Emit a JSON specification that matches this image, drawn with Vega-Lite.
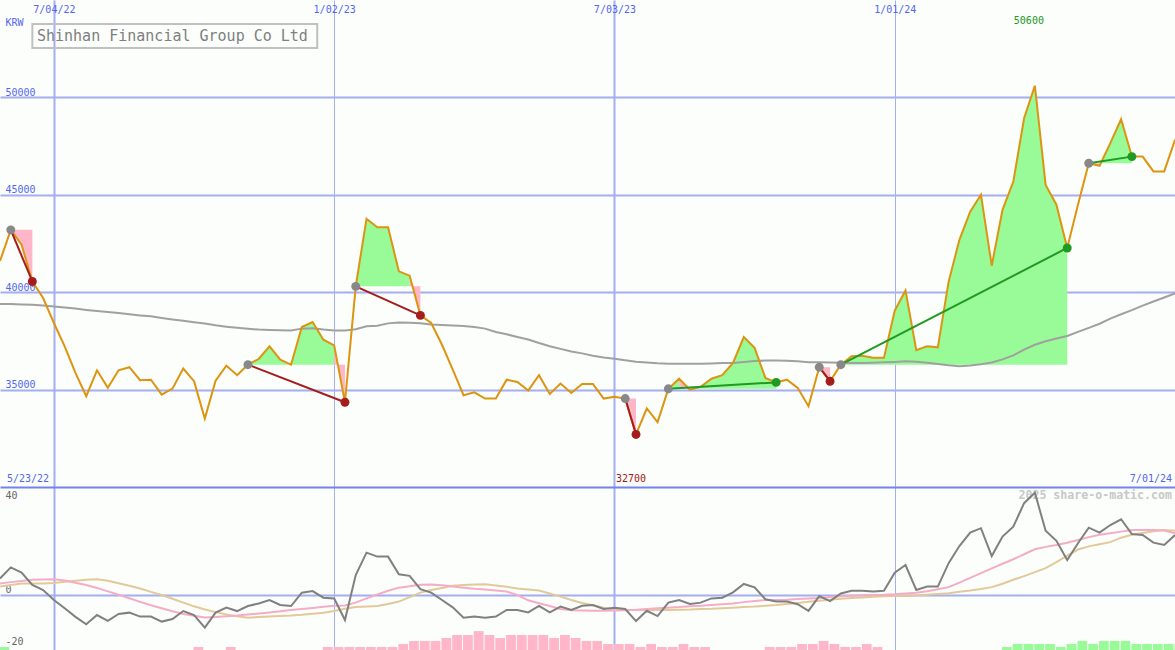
{
"$schema": "https://vega.github.io/schema/vega-lite/v6.json",
"background": "#fbfefb",
"padding": 0,
"spacing": 0,
"bounds": "flush",
"config": {"view": {"stroke": null, "fill": null}, "font": "DejaVu Sans Mono", "axis": {"labelFont": "DejaVu Sans Mono", "titleFont": "DejaVu Sans Mono"}},
"datasets": {
"w": [
{"d":"2022-05-30","c":41600,"m":39400,"g":6.3,"pk":4.4,"tn":3.2,"h":1,"bc":"g"},
{"d":"2022-06-06","c":43200,"m":39390,"g":10.5,"pk":4.9,"tn":3.8,"h":0,"bc":"p"},
{"d":"2022-06-13","c":42440,"m":39370,"g":8.5,"pk":5.3,"tn":4.4,"h":0,"bc":"p"},
{"d":"2022-06-20","c":40550,"m":39350,"g":3.8,"pk":5.8,"tn":4.4,"h":0,"bc":"p"},
{"d":"2022-06-27","c":39700,"m":39320,"g":1.9,"pk":5.9,"tn":4.4,"h":0,"bc":"p"},
{"d":"2022-07-04","c":38420,"m":39270,"g":-1.9,"pk":6.0,"tn":4.6,"h":0,"bc":"p"},
{"d":"2022-07-11","c":37220,"m":39220,"g":-5.0,"pk":5.5,"tn":5.0,"h":0,"bc":"p"},
{"d":"2022-07-18","c":35860,"m":39160,"g":-8.3,"pk":4.7,"tn":5.4,"h":0,"bc":"p"},
{"d":"2022-07-25","c":34660,"m":39090,"g":-11.1,"pk":3.8,"tn":5.8,"h":0,"bc":"p"},
{"d":"2022-08-01","c":35990,"m":39030,"g":-7.6,"pk":2.7,"tn":6.0,"h":0,"bc":"p"},
{"d":"2022-08-08","c":35090,"m":38980,"g":-9.8,"pk":1.4,"tn":5.4,"h":0,"bc":"p"},
{"d":"2022-08-15","c":35990,"m":38930,"g":-7.2,"pk":0.1,"tn":4.5,"h":0,"bc":"p"},
{"d":"2022-08-22","c":36150,"m":38870,"g":-6.7,"pk":-1.2,"tn":3.5,"h":0,"bc":"p"},
{"d":"2022-08-29","c":35480,"m":38810,"g":-8.2,"pk":-2.6,"tn":2.5,"h":0,"bc":"p"},
{"d":"2022-09-05","c":35510,"m":38760,"g":-8.2,"pk":-3.9,"tn":1.2,"h":0,"bc":"p"},
{"d":"2022-09-12","c":34740,"m":38680,"g":-10.1,"pk":-5.0,"tn":0.0,"h":0,"bc":"p"},
{"d":"2022-09-19","c":35050,"m":38600,"g":-9.1,"pk":-6.2,"tn":-1.4,"h":0,"bc":"p"},
{"d":"2022-09-26","c":36080,"m":38530,"g":-6.1,"pk":-7.2,"tn":-2.9,"h":0,"bc":"p"},
{"d":"2022-10-03","c":35430,"m":38460,"g":-7.6,"pk":-7.9,"tn":-4.3,"h":1,"bc":"p"},
{"d":"2022-10-10","c":33510,"m":38390,"g":-12.4,"pk":-8.5,"tn":-5.5,"h":0,"bc":"p"},
{"d":"2022-10-17","c":35460,"m":38300,"g":-6.7,"pk":-8.4,"tn":-6.5,"h":0,"bc":"p"},
{"d":"2022-10-24","c":36230,"m":38230,"g":-4.8,"pk":-8.1,"tn":-7.4,"h":1,"bc":"p"},
{"d":"2022-10-31","c":35740,"m":38170,"g":-6.1,"pk":-7.8,"tn":-8.1,"h":0,"bc":"p"},
{"d":"2022-11-07","c":36280,"m":38120,"g":-4.2,"pk":-7.4,"tn":-8.6,"h":0,"bc":"p"},
{"d":"2022-11-14","c":36570,"m":38080,"g":-3.2,"pk":-7.0,"tn":-8.4,"h":0,"bc":"p"},
{"d":"2022-11-21","c":37220,"m":38060,"g":-1.9,"pk":-6.6,"tn":-8.2,"h":0,"bc":"p"},
{"d":"2022-11-28","c":36540,"m":38050,"g":-3.8,"pk":-6.2,"tn":-8.0,"h":0,"bc":"p"},
{"d":"2022-12-05","c":36280,"m":38040,"g":-4.2,"pk":-5.7,"tn":-7.8,"h":0,"bc":"p"},
{"d":"2022-12-12","c":38210,"m":38130,"g":0.9,"pk":-5.3,"tn":-7.5,"h":0,"bc":"p"},
{"d":"2022-12-19","c":38470,"m":38150,"g":1.5,"pk":-4.9,"tn":-7.1,"h":0,"bc":"p"},
{"d":"2022-12-26","c":37560,"m":38080,"g":-1.0,"pk":-4.5,"tn":-6.7,"h":1,"bc":"p"},
{"d":"2023-01-02","c":37270,"m":38040,"g":-1.3,"pk":-4.1,"tn":-6.1,"h":1,"bc":"p"},
{"d":"2023-01-09","c":34350,"m":38040,"g":-9.5,"pk":-4.0,"tn":-5.2,"h":1,"bc":"p"},
{"d":"2023-01-16","c":40300,"m":38100,"g":7.6,"pk":-2.9,"tn":-4.6,"h":1,"bc":"p"},
{"d":"2023-01-23","c":43770,"m":38250,"g":16.1,"pk":-1.3,"tn":-4.4,"h":1,"bc":"p"},
{"d":"2023-01-30","c":43330,"m":38280,"g":14.6,"pk":0.2,"tn":-4.2,"h":1,"bc":"p"},
{"d":"2023-02-06","c":43330,"m":38400,"g":14.6,"pk":1.6,"tn":-3.4,"h":1,"bc":"p"},
{"d":"2023-02-13","c":41070,"m":38450,"g":7.9,"pk":2.8,"tn":-2.5,"h":2,"bc":"p"},
{"d":"2023-02-20","c":40850,"m":38430,"g":7.3,"pk":3.3,"tn":-0.8,"h":3,"bc":"p"},
{"d":"2023-02-27","c":38810,"m":38400,"g":2.2,"pk":3.9,"tn":0.9,"h":3,"bc":"p"},
{"d":"2023-03-06","c":38420,"m":38340,"g":0.9,"pk":4.0,"tn":1.9,"h":3,"bc":"p"},
{"d":"2023-03-13","c":37300,"m":38310,"g":-1.9,"pk":3.7,"tn":2.7,"h":4,"bc":"p"},
{"d":"2023-03-20","c":36030,"m":38290,"g":-4.7,"pk":3.2,"tn":3.5,"h":5,"bc":"p"},
{"d":"2023-03-27","c":34710,"m":38260,"g":-8.6,"pk":2.8,"tn":3.8,"h":5,"bc":"p"},
{"d":"2023-04-03","c":34860,"m":38210,"g":-8.2,"pk":2.4,"tn":4.0,"h":6.3,"bc":"p"},
{"d":"2023-04-10","c":34540,"m":38130,"g":-8.6,"pk":2.1,"tn":4.1,"h":5,"bc":"p"},
{"d":"2023-04-17","c":34540,"m":37960,"g":-8.2,"pk":1.7,"tn":3.6,"h":4,"bc":"p"},
{"d":"2023-04-24","c":35510,"m":37840,"g":-5.7,"pk":1.3,"tn":3.1,"h":5,"bc":"p"},
{"d":"2023-05-01","c":35390,"m":37700,"g":-5.7,"pk":0.0,"tn":2.5,"h":5,"bc":"p"},
{"d":"2023-05-08","c":34950,"m":37570,"g":-6.6,"pk":-2.0,"tn":2.1,"h":5,"bc":"p"},
{"d":"2023-05-15","c":35740,"m":37390,"g":-4.1,"pk":-3.1,"tn":1.7,"h":5,"bc":"p"},
{"d":"2023-05-22","c":34780,"m":37230,"g":-6.6,"pk":-4.2,"tn":0.6,"h":4,"bc":"p"},
{"d":"2023-05-29","c":35310,"m":37090,"g":-4.4,"pk":-5.3,"tn":-0.6,"h":5,"bc":"p"},
{"d":"2023-06-05","c":34830,"m":36960,"g":-5.7,"pk":-5.8,"tn":-1.9,"h":4,"bc":"p"},
{"d":"2023-06-12","c":35290,"m":36860,"g":-4.1,"pk":-5.9,"tn":-3.0,"h":3,"bc":"p"},
{"d":"2023-06-19","c":35290,"m":36740,"g":-3.8,"pk":-6.0,"tn":-3.9,"h":3,"bc":"p"},
{"d":"2023-06-26","c":34540,"m":36650,"g":-5.3,"pk":-6.0,"tn":-4.8,"h":2,"bc":"p"},
{"d":"2023-07-03","c":34630,"m":36580,"g":-4.8,"pk":-5.9,"tn":-5.6,"h":2,"bc":"p"},
{"d":"2023-07-10","c":34540,"m":36510,"g":-5.3,"pk":-5.8,"tn":-5.7,"h":2,"bc":"p"},
{"d":"2023-07-17","c":32700,"m":36430,"g":-9.9,"pk":-5.6,"tn":-5.7,"h":1,"bc":"p"},
{"d":"2023-07-24","c":34030,"m":36390,"g":-6.0,"pk":-5.3,"tn":-5.7,"h":2,"bc":"p"},
{"d":"2023-07-31","c":33330,"m":36350,"g":-8.0,"pk":-5.0,"tn":-5.7,"h":1,"bc":"p"},
{"d":"2023-08-07","c":35040,"m":36330,"g":-2.9,"pk":-4.8,"tn":-5.7,"h":1,"bc":"p"},
{"d":"2023-08-14","c":35560,"m":36330,"g":-1.9,"pk":-4.6,"tn":-5.6,"h":2,"bc":"p"},
{"d":"2023-08-21","c":35000,"m":36330,"g":-3.4,"pk":-4.3,"tn":-5.5,"h":1,"bc":"p"},
{"d":"2023-08-28","c":35140,"m":36330,"g":-2.9,"pk":-4.1,"tn":-5.3,"h":1,"bc":"p"},
{"d":"2023-09-04","c":35560,"m":36340,"g":-1.3,"pk":-3.8,"tn":-5.2,"h":0,"bc":"p"},
{"d":"2023-09-11","c":35740,"m":36360,"g":-1.0,"pk":-3.5,"tn":-5.0,"h":0,"bc":"p"},
{"d":"2023-09-18","c":36370,"m":36370,"g":1.0,"pk":-3.2,"tn":-4.8,"h":0,"bc":"p"},
{"d":"2023-09-25","c":37700,"m":36420,"g":4.2,"pk":-2.7,"tn":-4.6,"h":0,"bc":"p"},
{"d":"2023-10-02","c":37140,"m":36470,"g":2.9,"pk":-2.3,"tn":-4.4,"h":0,"bc":"p"},
{"d":"2023-10-09","c":35600,"m":36490,"g":-1.6,"pk":-1.9,"tn":-4.1,"h":1,"bc":"p"},
{"d":"2023-10-16","c":35370,"m":36490,"g":-2.5,"pk":-1.9,"tn":-3.8,"h":1,"bc":"p"},
{"d":"2023-10-23","c":35510,"m":36480,"g":-2.5,"pk":-1.8,"tn":-3.4,"h":1,"bc":"p"},
{"d":"2023-10-30","c":35090,"m":36450,"g":-3.5,"pk":-1.5,"tn":-3.0,"h":2,"bc":"p"},
{"d":"2023-11-06","c":34150,"m":36410,"g":-6.0,"pk":-1.3,"tn":-2.6,"h":2,"bc":"p"},
{"d":"2023-11-13","c":36150,"m":36400,"g":-0.4,"pk":-1.1,"tn":-2.2,"h":3,"bc":"p"},
{"d":"2023-11-20","c":35430,"m":36390,"g":-2.3,"pk":-0.8,"tn":-1.8,"h":2,"bc":"p"},
{"d":"2023-11-27","c":36280,"m":36380,"g":0.6,"pk":-0.5,"tn":-1.4,"h":1,"bc":"p"},
{"d":"2023-12-04","c":36710,"m":36370,"g":1.6,"pk":-0.3,"tn":-1.1,"h":1,"bc":"p"},
{"d":"2023-12-11","c":36740,"m":36370,"g":1.6,"pk":-0.1,"tn":-0.9,"h":2,"bc":"p"},
{"d":"2023-12-18","c":36630,"m":36380,"g":1.3,"pk":0.0,"tn":-0.7,"h":1,"bc":"p"},
{"d":"2023-12-25","c":36630,"m":36400,"g":1.6,"pk":0.1,"tn":-0.5,"h":0,"bc":"p"},
{"d":"2024-01-01","c":39050,"m":36420,"g":8.5,"pk":0.3,"tn":-0.4,"h":0,"bc":"p"},
{"d":"2024-01-08","c":40090,"m":36450,"g":11.4,"pk":0.6,"tn":-0.4,"h":0,"bc":"p"},
{"d":"2024-01-15","c":37020,"m":36430,"g":1.9,"pk":0.9,"tn":-0.2,"h":0,"bc":"p"},
{"d":"2024-01-22","c":37220,"m":36380,"g":3.2,"pk":1.4,"tn":0.1,"h":0,"bc":"p"},
{"d":"2024-01-29","c":37170,"m":36320,"g":3.2,"pk":2.2,"tn":0.4,"h":0,"bc":"p"},
{"d":"2024-02-05","c":40540,"m":36250,"g":12.1,"pk":3.0,"tn":0.7,"h":0,"bc":"p"},
{"d":"2024-02-12","c":42690,"m":36200,"g":18.6,"pk":4.7,"tn":1.2,"h":0,"bc":"p"},
{"d":"2024-02-19","c":44130,"m":36240,"g":23.7,"pk":6.5,"tn":1.7,"h":0,"bc":"p"},
{"d":"2024-02-26","c":45000,"m":36300,"g":25.4,"pk":8.3,"tn":2.3,"h":0,"bc":"p"},
{"d":"2024-03-04","c":41360,"m":36390,"g":14.8,"pk":10.1,"tn":3.0,"h":0,"bc":"p"},
{"d":"2024-03-11","c":44230,"m":36550,"g":22.2,"pk":11.9,"tn":4.3,"h":1,"bc":"g"},
{"d":"2024-03-18","c":45680,"m":36760,"g":26.0,"pk":13.6,"tn":5.8,"h":2,"bc":"g"},
{"d":"2024-03-25","c":48930,"m":37050,"g":34.9,"pk":15.5,"tn":7.2,"h":2,"bc":"g"},
{"d":"2024-04-01","c":50600,"m":37300,"g":38.9,"pk":17.4,"tn":8.7,"h":2,"bc":"g"},
{"d":"2024-04-08","c":45510,"m":37480,"g":24.4,"pk":18.3,"tn":10.2,"h":2,"bc":"g"},
{"d":"2024-04-15","c":44490,"m":37620,"g":20.6,"pk":19.0,"tn":12.5,"h":1,"bc":"g"},
{"d":"2024-04-22","c":42270,"m":37750,"g":13.3,"pk":19.9,"tn":15.0,"h":2,"bc":"g"},
{"d":"2024-04-29","c":44490,"m":37960,"g":19.7,"pk":20.9,"tn":17.3,"h":3,"bc":"g"},
{"d":"2024-05-06","c":46620,"m":38170,"g":25.6,"pk":22.0,"tn":18.5,"h":2,"bc":"g"},
{"d":"2024-05-13","c":46490,"m":38380,"g":23.7,"pk":22.9,"tn":19.3,"h":3,"bc":"g"},
{"d":"2024-05-20","c":47650,"m":38640,"g":26.6,"pk":23.5,"tn":20.1,"h":3,"bc":"g"},
{"d":"2024-05-27","c":48880,"m":38870,"g":28.8,"pk":24.1,"tn":21.8,"h":3,"bc":"g"},
{"d":"2024-06-03","c":46960,"m":39080,"g":23.2,"pk":24.7,"tn":22.9,"h":2,"bc":"g"},
{"d":"2024-06-10","c":46960,"m":39310,"g":22.8,"pk":24.7,"tn":23.6,"h":2,"bc":"g"},
{"d":"2024-06-17","c":46200,"m":39520,"g":19.9,"pk":24.7,"tn":24.2,"h":2,"bc":"g"},
{"d":"2024-06-24","c":46200,"m":39730,"g":19.0,"pk":24.5,"tn":24.7,"h":2,"bc":"g"},
{"d":"2024-07-01","c":47820,"m":39940,"g":22.8,"pk":23.5,"tn":24.4,"h":2,"bc":"g"}
],
"fills": [
{"d":"2022-06-06","c":43200,"e":43200,"r":"1p","k":"p"},
{"d":"2022-06-13","c":42440,"e":43200,"r":"1p","k":"p"},
{"d":"2022-06-20","c":40550,"e":43200,"r":"1p","k":"p"},
{"d":"2022-11-07","c":36280,"e":36280,"r":"2g","k":"g"},
{"d":"2022-11-14","c":36570,"e":36280,"r":"2g","k":"g"},
{"d":"2022-11-21","c":37220,"e":36280,"r":"2g","k":"g"},
{"d":"2022-11-28","c":36540,"e":36280,"r":"2g","k":"g"},
{"d":"2022-12-05","c":36280,"e":36280,"r":"2g","k":"g"},
{"d":"2022-12-12","c":38210,"e":36280,"r":"2g","k":"g"},
{"d":"2022-12-19","c":38470,"e":36280,"r":"2g","k":"g"},
{"d":"2022-12-26","c":37560,"e":36280,"r":"2g","k":"g"},
{"d":"2023-01-02","c":37270,"e":36280,"r":"2g","k":"g"},
{"d":"2023-01-02","c":37270,"e":36280,"r":"2p","k":"p"},
{"d":"2023-01-09","c":34350,"e":36280,"r":"2p","k":"p"},
{"d":"2023-01-16","c":40300,"e":40300,"r":"3g","k":"g"},
{"d":"2023-01-23","c":43770,"e":40300,"r":"3g","k":"g"},
{"d":"2023-01-30","c":43330,"e":40300,"r":"3g","k":"g"},
{"d":"2023-02-06","c":43330,"e":40300,"r":"3g","k":"g"},
{"d":"2023-02-13","c":41070,"e":40300,"r":"3g","k":"g"},
{"d":"2023-02-20","c":40850,"e":40300,"r":"3g","k":"g"},
{"d":"2023-02-20","c":40850,"e":40300,"r":"3p","k":"p"},
{"d":"2023-02-27","c":38810,"e":40300,"r":"3p","k":"p"},
{"d":"2023-07-10","c":34540,"e":34540,"r":"4p","k":"p"},
{"d":"2023-07-17","c":32700,"e":34540,"r":"4p","k":"p"},
{"d":"2023-08-07","c":35040,"e":35040,"r":"5g","k":"g"},
{"d":"2023-08-14","c":35560,"e":35040,"r":"5g","k":"g"},
{"d":"2023-08-14","c":35560,"e":35040,"r":"5p","k":"p"},
{"d":"2023-08-21","c":35000,"e":35040,"r":"5p","k":"p"},
{"d":"2023-08-21","c":35000,"e":35040,"r":"5h","k":"g"},
{"d":"2023-08-28","c":35140,"e":35040,"r":"5h","k":"g"},
{"d":"2023-09-04","c":35560,"e":35040,"r":"5h","k":"g"},
{"d":"2023-09-11","c":35740,"e":35040,"r":"5h","k":"g"},
{"d":"2023-09-18","c":36370,"e":35040,"r":"5h","k":"g"},
{"d":"2023-09-25","c":37700,"e":35040,"r":"5h","k":"g"},
{"d":"2023-10-02","c":37140,"e":35040,"r":"5h","k":"g"},
{"d":"2023-10-09","c":35600,"e":35040,"r":"5h","k":"g"},
{"d":"2023-10-16","c":35370,"e":35040,"r":"5h","k":"g"},
{"d":"2023-11-13","c":36150,"e":36150,"r":"6p","k":"p"},
{"d":"2023-11-20","c":35430,"e":36150,"r":"6p","k":"p"},
{"d":"2023-11-27","c":36280,"e":36280,"r":"7g","k":"g"},
{"d":"2023-12-04","c":36710,"e":36280,"r":"7g","k":"g"},
{"d":"2023-12-11","c":36740,"e":36280,"r":"7g","k":"g"},
{"d":"2023-12-18","c":36630,"e":36280,"r":"7g","k":"g"},
{"d":"2023-12-25","c":36630,"e":36280,"r":"7g","k":"g"},
{"d":"2024-01-01","c":39050,"e":36280,"r":"7g","k":"g"},
{"d":"2024-01-08","c":40090,"e":36280,"r":"7g","k":"g"},
{"d":"2024-01-15","c":37020,"e":36280,"r":"7g","k":"g"},
{"d":"2024-01-22","c":37220,"e":36280,"r":"7g","k":"g"},
{"d":"2024-01-29","c":37170,"e":36280,"r":"7g","k":"g"},
{"d":"2024-02-05","c":40540,"e":36280,"r":"7g","k":"g"},
{"d":"2024-02-12","c":42690,"e":36280,"r":"7g","k":"g"},
{"d":"2024-02-19","c":44130,"e":36280,"r":"7g","k":"g"},
{"d":"2024-02-26","c":45000,"e":36280,"r":"7g","k":"g"},
{"d":"2024-03-04","c":41360,"e":36280,"r":"7g","k":"g"},
{"d":"2024-03-11","c":44230,"e":36280,"r":"7g","k":"g"},
{"d":"2024-03-18","c":45680,"e":36280,"r":"7g","k":"g"},
{"d":"2024-03-25","c":48930,"e":36280,"r":"7g","k":"g"},
{"d":"2024-04-01","c":50600,"e":36280,"r":"7g","k":"g"},
{"d":"2024-04-08","c":45510,"e":36280,"r":"7g","k":"g"},
{"d":"2024-04-15","c":44490,"e":36280,"r":"7g","k":"g"},
{"d":"2024-04-22","c":42270,"e":36280,"r":"7g","k":"g"},
{"d":"2024-05-06","c":46620,"e":46620,"r":"8p","k":"p"},
{"d":"2024-05-13","c":46490,"e":46620,"r":"8p","k":"p"},
{"d":"2024-05-13","c":46490,"e":46620,"r":"8g","k":"g"},
{"d":"2024-05-20","c":47650,"e":46620,"r":"8g","k":"g"},
{"d":"2024-05-27","c":48880,"e":46620,"r":"8g","k":"g"},
{"d":"2024-06-03","c":46960,"e":46620,"r":"8g","k":"g"}
],
"trades": [
{"t":1,"d":"2022-06-06","v":43200,"w":"loss","k":"entry"},
{"t":1,"d":"2022-06-20","v":40550,"w":"loss","k":"loss"},
{"t":2,"d":"2022-11-07","v":36280,"w":"loss","k":"entry"},
{"t":2,"d":"2023-01-09","v":34350,"w":"loss","k":"loss"},
{"t":3,"d":"2023-01-16","v":40300,"w":"loss","k":"entry"},
{"t":3,"d":"2023-02-27","v":38810,"w":"loss","k":"loss"},
{"t":4,"d":"2023-07-10","v":34540,"w":"loss","k":"entry"},
{"t":4,"d":"2023-07-17","v":32700,"w":"loss","k":"loss"},
{"t":5,"d":"2023-08-07","v":35040,"w":"win","k":"entry"},
{"t":5,"d":"2023-10-16","v":35370,"w":"win","k":"win"},
{"t":6,"d":"2023-11-13","v":36150,"w":"loss","k":"entry"},
{"t":6,"d":"2023-11-20","v":35430,"w":"loss","k":"loss"},
{"t":7,"d":"2023-11-27","v":36280,"w":"win","k":"entry"},
{"t":7,"d":"2024-04-22","v":42270,"w":"win","k":"win"},
{"t":8,"d":"2024-05-06","v":46620,"w":"win","k":"entry"},
{"t":8,"d":"2024-06-03","v":46960,"w":"win","k":"win"}
]
},
"vconcat": [
{
"width": 1175, "height": 487,
"layer": [
{
"data": {"name": "fills"},
"mark": {"type": "area", "clip": true, "opacity": 1},
"encoding": {
"x": {"field": "d", "type": "temporal",
 "scale": {"type": "utc", "domain": [{"year": 2022, "month": 5, "date": 30, "utc": true}, {"year": 2024, "month": 7, "date": 1, "utc": true}]},
 "axis": {"orient": "top", "title": null,
  "values": [{"year": 2022, "month": 7, "date": 4, "utc": true}, {"year": 2023, "month": 1, "date": 2, "utc": true}, {"year": 2023, "month": 7, "date": 3, "utc": true}, {"year": 2024, "month": 1, "date": 1, "utc": true}],
  "labelExpr": "utcFormat(datum.value, '%-m/%d/%y')",
  "domain": false, "ticks": false, "tickSize": 0, "labelPadding": -4, "labelBaseline": "top", "labelAlign": "center", "labelDx": 3,
  "labelColor": "#5566ee", "labelFontSize": 10, "labelFlush": false, "labelOverlap": false,
  "grid": true, "gridColor": "#a4aef0", "gridOpacity": 1,
  "gridWidth": {"condition": {"test": "utcmonth(datum.value) == 6", "value": 2}, "value": 1},
  "minExtent": 0, "maxExtent": 0}},
"y": {"field": "c", "type": "quantitative",
 "scale": {"domain": [30000, 55000], "nice": false, "zero": false},
 "axis": {"orient": "left", "values": [35000, 40000, 45000, 50000], "labelExpr": "'' + datum.value",
  "domain": false, "ticks": false, "tickSize": 0, "labelPadding": -5, "labelAlign": "left", "labelBaseline": "alphabetic", "labelOffset": -2,
  "labelColor": "#5566ee", "labelFontSize": 10, "labelFlush": false, "labelOverlap": false,
  "grid": true, "gridColor": "#a4aef0", "gridWidth": 2, "gridOpacity": 1,
  "title": "KRW", "titleAngle": 0, "titleAlign": "left", "titleBaseline": "alphabetic", "titleX": 5, "titleY": 25,
  "titleColor": "#5566ee", "titleFontSize": 10, "titleFontWeight": "normal",
  "minExtent": 0, "maxExtent": 0}},
"y2": {"field": "e"},
"detail": {"field": "r"},
"color": {"field": "k", "type": "nominal", "scale": {"domain": ["g", "p", "win", "loss", "entry"], "range": ["#98fb98", "#ffb6c8", "#229922", "#a51c1c", "#888888"]}, "legend": null}
}
},
{
"data": {"name": "w"},
"mark": {"type": "line", "clip": true, "color": "#a0a0a0", "strokeWidth": 2},
"encoding": {
"x": {"field": "d", "type": "temporal"},
"y": {"field": "m", "type": "quantitative"}
}
},
{
"data": {"name": "w"},
"mark": {"type": "line", "clip": true, "color": "#dd9410", "strokeWidth": 2},
"encoding": {
"x": {"field": "d", "type": "temporal"},
"y": {"field": "c", "type": "quantitative"}
}
},
{
"data": {"name": "trades"},
"mark": {"type": "line", "clip": true, "strokeWidth": 2},
"encoding": {
"x": {"field": "d", "type": "temporal"},
"y": {"field": "v", "type": "quantitative"},
"detail": {"field": "t"},
"color": {"field": "w", "type": "nominal", "legend": null}
}
},
{
"data": {"name": "trades"},
"mark": {"type": "circle", "size": 80, "opacity": 1},
"encoding": {
"x": {"field": "d", "type": "temporal"},
"y": {"field": "v", "type": "quantitative"},
"color": {"field": "k", "type": "nominal", "legend": null}
}
},
{
"data": {"values": [{}]},
"mark": {"type": "rect", "filled": false, "stroke": "#c0c0c0", "strokeWidth": 2},
"encoding": {
"x": {"datum": {"year": 2022, "month": 6, "date": 20, "utc": true}, "type": "temporal"},
"x2": {"datum": {"year": 2022, "month": 12, "date": 22, "utc": true}},
"y": {"datum": 53770, "type": "quantitative"},
"y2": {"datum": 52540}
}
},
{
"data": {"values": [{}]},
"mark": {"type": "text", "align": "left", "baseline": "middle", "font": "DejaVu Sans Mono", "fontSize": 15, "color": "#808080"},
"encoding": {
"x": {"datum": {"year": 2022, "month": 6, "date": 23, "utc": true}, "type": "temporal"},
"y": {"datum": 53150, "type": "quantitative"},
"text": {"value": "Shinhan Financial Group Co Ltd"}
}
},
{
"data": {"values": [{}]},
"mark": {"type": "text", "align": "left", "baseline": "middle", "font": "DejaVu Sans Mono", "fontSize": 10, "color": "#5566ee", "dx": 7, "dy": -8},
"encoding": {
"x": {"datum": {"year": 2022, "month": 5, "date": 30, "utc": true}, "type": "temporal"},
"y": {"datum": 30000, "type": "quantitative"},
"text": {"value": "5/23/22"}
}
},
{
"data": {"values": [{}]},
"mark": {"type": "text", "align": "right", "baseline": "middle", "font": "DejaVu Sans Mono", "fontSize": 10, "color": "#5566ee", "dx": -3, "dy": -8},
"encoding": {
"x": {"datum": {"year": 2024, "month": 7, "date": 1, "utc": true}, "type": "temporal"},
"y": {"datum": 30000, "type": "quantitative"},
"text": {"value": "7/01/24"}
}
},
{
"data": {"values": [{}]},
"mark": {"type": "text", "align": "center", "baseline": "middle", "font": "DejaVu Sans Mono", "fontSize": 10, "color": "#a01818", "dx": -5, "dy": -8},
"encoding": {
"x": {"datum": {"year": 2023, "month": 7, "date": 17, "utc": true}, "type": "temporal"},
"y": {"datum": 30000, "type": "quantitative"},
"text": {"value": "32700"}
}
},
{
"data": {"values": [{}]},
"mark": {"type": "text", "align": "center", "baseline": "middle", "font": "DejaVu Sans Mono", "fontSize": 10, "color": "#229922", "dx": -6, "dy": 21},
"encoding": {
"x": {"datum": {"year": 2024, "month": 4, "date": 1, "utc": true}, "type": "temporal"},
"y": {"datum": 55000, "type": "quantitative"},
"text": {"value": "50600"}
}
}
]
},
{
"width": 1175, "height": 163,
"resolve": {"scale": {"y": "independent"}},
"layer": [
{
"data": {"name": "w"},
"transform": [{"filter": "datum.h > 0"}],
"mark": {"type": "bar", "clip": true},
"encoding": {
"x": {"field": "d", "type": "temporal", "timeUnit": "utcyearweek",
 "scale": {"type": "utc", "domain": [{"year": 2022, "month": 5, "date": 30, "utc": true}, {"year": 2024, "month": 7, "date": 1, "utc": true}]}},
"y": {"field": "h", "type": "quantitative", "scale": {"domain": [0, 54.33], "nice": false, "zero": true}, "axis": null},
"color": {"field": "bc", "type": "nominal", "scale": {"domain": ["g", "p"], "range": ["#98fb98", "#f8b6ca"]}, "legend": null}
}
},
{
"layer": [
{
"data": {"name": "w"},
"mark": {"type": "line", "clip": true, "color": "#e2c99a", "strokeWidth": 2},
"encoding": {
"x": {"field": "d", "type": "temporal",
 "axis": {"orient": "top", "title": null, "labels": false, "ticks": false, "tickSize": 0,
  "values": [{"year": 2022, "month": 7, "date": 4, "utc": true}, {"year": 2023, "month": 1, "date": 2, "utc": true}, {"year": 2023, "month": 7, "date": 3, "utc": true}, {"year": 2024, "month": 1, "date": 1, "utc": true}],
  "domain": true, "domainColor": "#7282ee", "domainWidth": 2,
  "grid": true, "gridColor": "#a4aef0", "gridOpacity": 1,
  "gridWidth": {"condition": {"test": "utcmonth(datum.value) == 6", "value": 2}, "value": 1},
  "minExtent": 0, "maxExtent": 0}},
"y": {"field": "tn", "type": "quantitative",
 "scale": {"domain": [-20.9, 41.06], "nice": false, "zero": false},
 "axis": {"orient": "left", "values": [-20, 0, 40], "labelExpr": "'' + datum.value",
  "domain": false, "ticks": false, "tickSize": 0, "labelPadding": -5, "labelAlign": "left",
  "labelBaseline": {"condition": {"test": "datum.value == 40", "value": "top"}, "value": "alphabetic"},
  "labelOffset": {"condition": {"test": "datum.value == 40", "value": 1}, "value": -3},
  "labelColor": "#666666", "labelFontSize": 10, "labelFlush": false, "labelOverlap": false,
  "grid": true, "gridColor": "#a4aef0", "gridWidth": 2,
  "gridOpacity": {"condition": {"test": "datum.value == 0", "value": 1}, "value": 0},
  "title": null, "minExtent": 0, "maxExtent": 0}}
}
},
{
"data": {"values": [{}]},
"mark": {"type": "text", "align": "right", "baseline": "middle", "font": "DejaVu Sans Mono", "fontSize": 11.6, "fontWeight": "bold", "color": "#c8c8c8", "dx": -3, "dy": 9},
"encoding": {
"x": {"datum": {"year": 2024, "month": 7, "date": 1, "utc": true}, "type": "temporal"},
"y": {"datum": 41.06, "type": "quantitative"},
"text": {"value": "2025 share-o-matic.com"}
}
},
{
"data": {"name": "w"},
"mark": {"type": "line", "clip": true, "color": "#f6acc6", "strokeWidth": 2},
"encoding": {
"x": {"field": "d", "type": "temporal"},
"y": {"field": "pk", "type": "quantitative"}
}
},
{
"data": {"name": "w"},
"mark": {"type": "line", "clip": true, "color": "#808080", "strokeWidth": 2},
"encoding": {
"x": {"field": "d", "type": "temporal"},
"y": {"field": "g", "type": "quantitative"}
}
}
]
}
]
}
]
}
